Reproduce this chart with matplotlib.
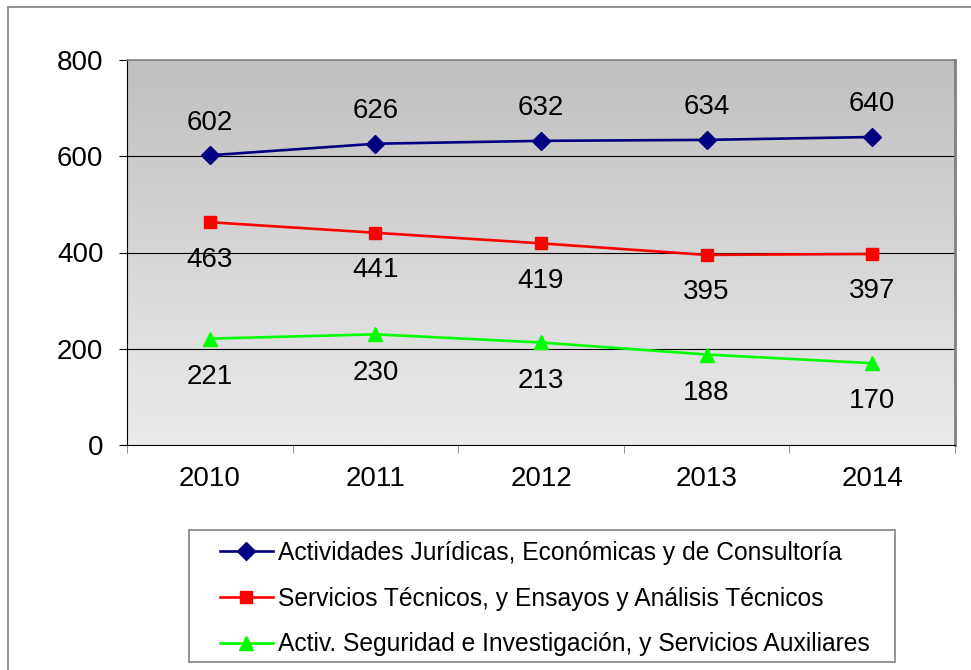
import numpy as np
import matplotlib
matplotlib.use("Agg")
import matplotlib.pyplot as plt
from matplotlib.patches import Rectangle

plt.rcParams['font.family'] = ['Liberation Sans', 'DejaVu Sans']

years = ['2010', '2011', '2012', '2013', '2014']
juridicas = [602, 626, 632, 634, 640]
tecnicos = [463, 441, 419, 395, 397]
seguridad = [221, 230, 213, 188, 170]

labels = [
    'Actividades Jurídicas, Económicas y de Consultoría',
    'Servicios Técnicos, y Ensayos y Análisis Técnicos',
    'Activ. Seguridad e Investigación, y Servicios Auxiliares',
]

W, H = 971, 670
fig = plt.figure(figsize=(W / 100, H / 100), dpi=100)

# outer chart border (only left/top visible in the original)
fig.patches.append(Rectangle((8 / W, -0.05), 1.2, (H - 7) / H + 0.05,
                             transform=fig.transFigure, fill=False,
                             edgecolor='#808080', linewidth=1.2))

left, top, right, bottom = 127, 60, 955, 445
ax = fig.add_axes([left / W, 1 - bottom / H, (right - left) / W, (bottom - top) / H])

x = np.arange(len(years))
ax.set_xlim(-0.5, len(years) - 0.5)
ax.set_ylim(0, 800)

# gray gradient background
grad = np.linspace(0, 1, 256).reshape(-1, 1)
ax.imshow(grad, extent=(-0.5, len(years) - 0.5, 0, 800), aspect='auto',
          cmap=matplotlib.colors.LinearSegmentedColormap.from_list('g', ['#ebebeb', '#c0c0c0']),
          origin='lower', zorder=0)

for yv in [200, 400, 600]:
    ax.axhline(yv, color='black', linewidth=0.8, zorder=1)

ax.plot(x, juridicas, color='#000080', marker='D', markersize=9, linewidth=1.9, zorder=3, label=labels[0])
ax.plot(x, tecnicos, color='#ff0000', marker='s', markersize=9, linewidth=1.9, zorder=3, label=labels[1])
ax.plot(x, seguridad, color='#00ff00', marker='^', markersize=10, linewidth=1.9, zorder=3, label=labels[2])

for i in range(len(years)):
    ax.annotate(str(juridicas[i]), (x[i], juridicas[i]), xytext=(0, 23.5), textcoords='offset points',
                ha='center', va='center', fontsize=20)
    ax.annotate(str(tecnicos[i]), (x[i], tecnicos[i]), xytext=(0, -27), textcoords='offset points',
                ha='center', va='center', fontsize=20)
    ax.annotate(str(seguridad[i]), (x[i], seguridad[i]), xytext=(0, -27.5), textcoords='offset points',
                ha='center', va='center', fontsize=20)

ax.set_yticks([0, 200, 400, 600, 800])
ax.set_yticklabels(['0', '200', '400', '600', '800'], fontsize=20)
ax.set_xticks(x)
ax.set_xticklabels(years, fontsize=20)
ax.set_xticks(np.arange(-0.5, len(years), 1), minor=True)
ax.tick_params(axis='x', which='major', length=0, pad=15)
ax.tick_params(axis='x', which='minor', length=6, color='#808080', direction='out')
ax.tick_params(axis='y', length=6, direction='out', pad=11)

ax.spines['left'].set_color('black')
ax.spines['bottom'].set_color('black')
ax.spines['top'].set_color('#808080')
ax.spines['right'].set_color('#808080')
ax.spines['right'].set_linewidth(2)
ax.spines['top'].set_linewidth(1.2)

# legend frame drawn separately so its size matches the original
lx0, ly0, lx1, ly1 = 189, 530, 895, 662
fig.patches.append(Rectangle((lx0 / W, 1 - ly1 / H), (lx1 - lx0) / W, (ly1 - ly0) / H,
                             transform=fig.transFigure, fill=False,
                             edgecolor='#808080', linewidth=1.2))
fig.legend(loc='upper left', bbox_to_anchor=(220 / W, 1 - 541 / H), fontsize=17.7,
           frameon=False, handlelength=2.15, handletextpad=0.2,
           borderpad=0, labelspacing=0.88, borderaxespad=0)

fig.savefig('out.png', dpi=100)
